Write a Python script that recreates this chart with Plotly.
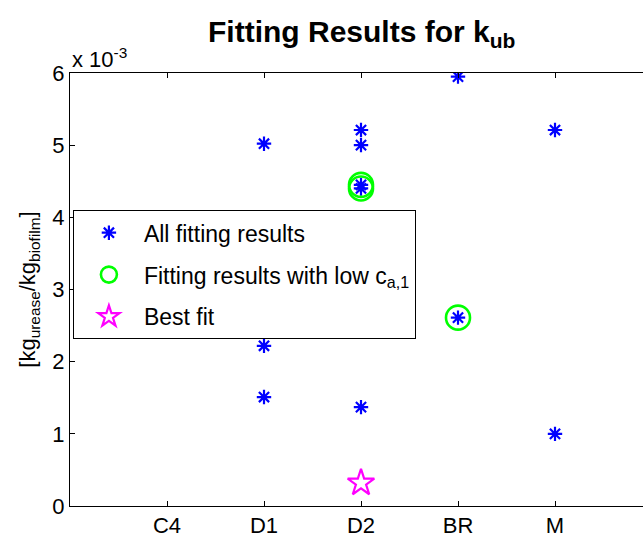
import plotly.graph_objects as go

# Data (values in units of 1e-3 kg_urease/kg_biofilm)
categories = ["C4", "D1", "D2", "BR", "M"]
cat_pos = [1, 2, 3, 4, 5]

all_x = [2, 2, 2, 3, 3, 3, 3, 3, 4, 4, 5, 5]
all_y = [5.02, 2.22, 1.51, 5.21, 5.00, 4.45, 4.40, 1.37, 5.95, 2.61, 5.21, 1.00]

low_x = [3, 3, 4]
low_y = [4.45, 4.40, 2.61]

best_x = [3]
best_y = [0.32]

y_ticks = [0, 1, 2, 3, 4, 5, 6]

FONT = "Liberation Sans, Arial, Helvetica, sans-serif"

fig = go.Figure()
fig.add_trace(go.Scatter(
    x=all_x, y=all_y, mode="markers", name="All fitting results",
    legendgroup="a",
    marker=dict(symbol="asterisk-open", size=12, color="#0000FF",
                line=dict(color="#0000FF", width=2.2)),
))
fig.add_trace(go.Scatter(
    x=low_x, y=low_y, mode="markers", name="Fitting results with low c<sub>a,1</sub>",
    legendgroup="b",
    marker=dict(symbol="circle-open", size=24, color="#00FF00",
                line=dict(color="#00FF00", width=2.6)),
))
fig.add_trace(go.Scatter(
    x=best_x, y=best_y, mode="markers", name="Best fit",
    legendgroup="c",
    marker=dict(symbol="star-open", size=20, color="#FF00FF",
                line=dict(color="#FF00FF", width=2.2)),
))

# Figure is slightly wider than the 643px window (as in the original, whose
# axes box runs past the right edge); the page clips the overflow.
fig.update_layout(
    width=652, height=538,
    margin=dict(l=70, r=0, t=73, b=28),
    paper_bgcolor="white", plot_bgcolor="white",
    font=dict(family=FONT, size=22, color="black"),
    showlegend=True,
    dragmode=False, hovermode=False,
    legend=dict(
        x=0.005, y=0.683, xanchor="left", yanchor="top",
        bgcolor="white", bordercolor="black", borderwidth=1,
        font=dict(size=23), itemwidth=60, tracegroupgap=9,
        itemsizing="trace",
    ),
    xaxis=dict(
        range=[0, 6], tickmode="array", tickvals=cat_pos, ticktext=categories,
        showgrid=False, zeroline=False, showline=True, linecolor="black", linewidth=1,
        mirror="ticks", ticks="inside", ticklen=5, tickcolor="black",
        tickfont=dict(size=22),
    ),
    yaxis=dict(
        range=[0, 6], tickmode="array", tickvals=y_ticks,
        ticktext=[str(v) for v in y_ticks],
        showgrid=False, zeroline=False, showline=True, linecolor="black", linewidth=1,
        mirror=False, ticks="inside", ticklen=5, tickcolor="black",
        tickfont=dict(size=22),
        title=dict(text="[kg<sub>urease</sub>/kg<sub>biofilm</sub>]",
                   font=dict(size=22), standoff=10),
    ),
    annotations=[
        dict(text="<b>Fitting Results for k<sub>ub</sub></b>", xref="x", yref="paper",
             x=3.0, y=1.0, xanchor="center", yanchor="bottom", yshift=19,
             showarrow=False, font=dict(size=30)),
        dict(text="x 10<sup>-3</sup>", xref="paper", yref="paper",
             x=0.0, y=1.0, xanchor="left", yanchor="bottom", xshift=0, yshift=-1,
             showarrow=False, font=dict(size=22)),
    ],
)

fig.write_html(
    "out.html",
    config={"displayModeBar": False, "staticPlot": True},
    post_script=("document.body.style.margin='0';"
                 "document.body.style.overflow='hidden';"
                 "document.documentElement.style.overflow='hidden';"),
)
